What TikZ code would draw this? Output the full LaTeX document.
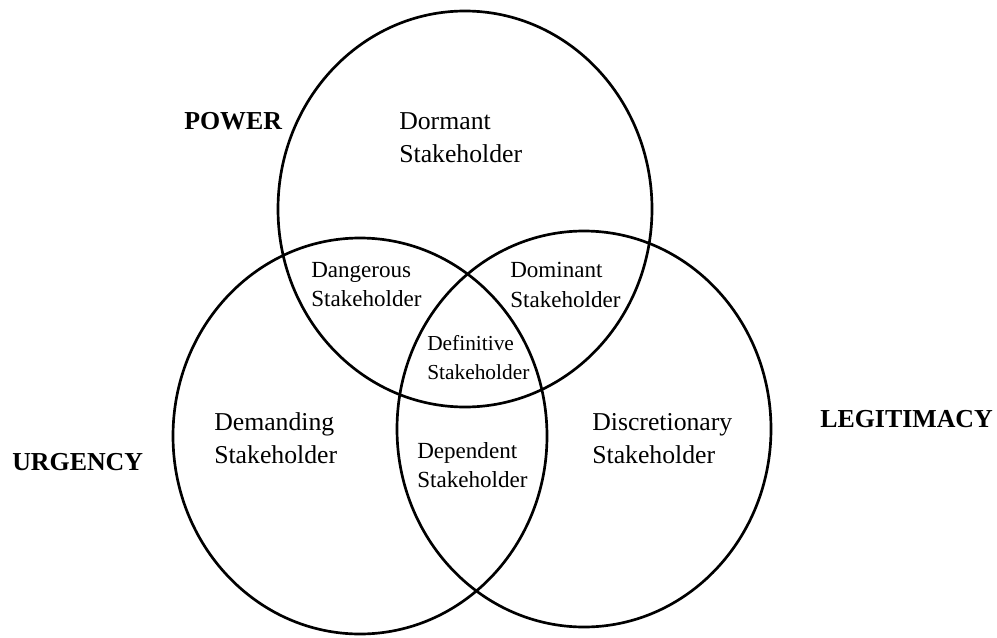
\documentclass[tikz,border=0pt]{standalone}
\usepackage{fontspec}
\setmainfont{Liberation Serif}

\tikzset{
    ring/.style={line width=1.9pt},
    setname/.style={font=\fontsize{18.4}{22}\selectfont\bfseries, inner sep=0pt, anchor=base west},
    region/.style={font=\fontsize{18.3}{23.5}\selectfont, align=left, inner sep=0pt, anchor=north west},
    subregion/.style={region, font=\fontsize{16.4}{21}\selectfont},
    core/.style={region, font=\fontsize{15.2}{21}\selectfont}
}

\begin{document}
\begin{tikzpicture}[x=0.025cm, y=-0.025cm]
    \useasboundingbox (0,0) rectangle (997,637);

    % Ba tập hợp giao nhau
    \draw[ring] (465,209) ellipse [x radius=187, y radius=198];
    \draw[ring] (360,436) ellipse [x radius=187, y radius=198];
    \draw[ring] (584,429) ellipse [x radius=187, y radius=198];

    % Tên các tập hợp
    \node[setname] (power) at (184,129) {POWER};
    \node[setname] (urgency) at (12,470) {URGENCY};
    \node[setname] (legitimacy) at (820,427) {LEGITIMACY};

    % Các vùng chỉ thuộc một tập
    \node[region] (dormant) at (399,112) {Dormant\\Stakeholder};
    \node[region] (demanding) at (214,412) {Demanding\\Stakeholder};
    \node[region] (discretionary) at (592,413) {Discretionary\\Stakeholder};

    % Các vùng giao
    \node[subregion] (dangerous) at (311,262) {Dangerous\\Stakeholder};
    \node[subregion] (dominant) at (510,262) {Dominant\\Stakeholder};
    \node[subregion] (dependent) at (417,442) {Dependent\\Stakeholder};
    \node[core] (definitive) at (427,335) {Definitive\\Stakeholder};
\end{tikzpicture}
\end{document}
